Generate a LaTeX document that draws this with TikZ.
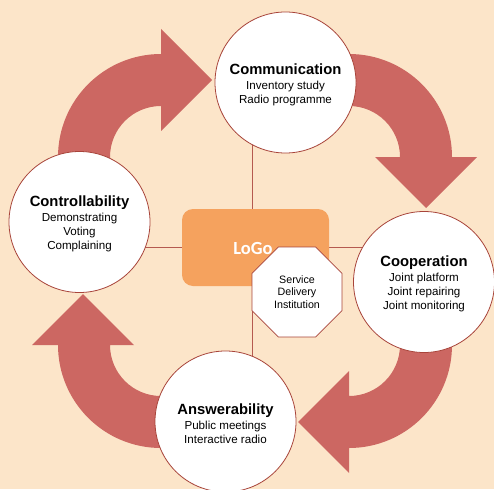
\documentclass[tikz,border=0pt]{standalone}
\usepackage{fontspec}
\setmainfont{Liberation Sans}
\newfontfamily\logofont{Carlito}
\usetikzlibrary{shapes.geometric}
\definecolor{bgc}{HTML}{FCE5C9}
\definecolor{arrowc}{HTML}{CC6762}
\definecolor{ringc}{HTML}{A8443A}
\definecolor{linkc}{HTML}{B55A50}
\definecolor{logoc}{HTML}{F5A25E}
\newcommand{\bubtitle}[1]{\rule{0pt}{15pt}{\fontsize{14.8}{16}\selectfont\bfseries #1}}
\begin{document}
\begin{tikzpicture}[x=1pt,y=1pt,
  bubble/.style={circle, draw=ringc, line width=0.8pt, fill=white, minimum size=141pt, inner sep=0pt, align=center, font=\fontsize{11.6}{14}\selectfont},
  bigarrow/.style={fill=arrowc, draw=none},
  link/.style={draw=linkc, line width=0.8pt},
  logobox/.style={fill=logoc, draw=none, rounded corners=11pt, minimum width=147pt, minimum height=77pt, inner sep=0pt},
  logolabel/.style={text=white, font=\logofont\fontsize{18.5}{20}\selectfont\bfseries},
  octo/.style={regular polygon, regular polygon sides=8, draw=ringc, line width=0.8pt, fill=white, minimum size=97.4pt, inner sep=0pt, align=center, font=\fontsize{10.7}{12.7}\selectfont},
]
\fill[bgc] (0,0) rectangle (494,-489);
\useasboundingbox (0,0) rectangle (494,-489);

% curved arrows
\fill[bigarrow] (58,-180) -- (58,-157) arc[start angle=180,end angle=90,radius=103]
  -- (161,-29) -- (212,-80) -- (161,-131) -- (161,-106)
  arc[start angle=90,end angle=180,radius=51] -- (110,-180) -- cycle;
\fill[bigarrow] (320,-54) -- (349,-54) arc[start angle=90,end angle=0,radius=103]
  -- (477,-157) -- (426,-208) -- (375,-157) -- (400,-157)
  arc[start angle=0,end angle=90,radius=51] -- (320,-106) -- cycle;
\fill[bigarrow] (452,-320) -- (452,-345) arc[start angle=0,end angle=-90,radius=103]
  -- (349,-473) -- (298,-422) -- (349,-371) -- (349,-396)
  arc[start angle=-90,end angle=0,radius=51] -- (400,-320) -- cycle;
\fill[bigarrow] (185,-448) -- (161,-448) arc[start angle=-90,end angle=-180,radius=103]
  -- (32,-345) -- (83,-294) -- (134,-345) -- (110,-345)
  arc[start angle=-180,end angle=-90,radius=51] -- (185,-396) -- cycle;

% node positions
\coordinate (hub) at (252.3,-247.3);
\coordinate (commc) at (285.5,-82.5);
\coordinate (coopc) at (424,-282);
\coordinate (answc) at (225.5,-421.5);
\coordinate (ctrlc) at (79.5,-222);

% connecting lines (drawn beneath the shapes)
\draw[link] (hub |- commc) -- (hub |- answc);
\draw[link] (hub -| ctrlc) -- (hub -| coopc);

\node[bubble] (comm) at (commc) {\bubtitle{Communication}\\[1pt]Inventory study\\Radio programme};
\node[bubble] (coop) at (coopc) {\bubtitle{Cooperation}\\[1pt]Joint platform\\Joint repairing\\Joint monitoring};
\node[bubble] (answ) at (answc) {\bubtitle{Answerability}\\[1pt]Public meetings\\Interactive radio};
\node[bubble] (ctrl) at (ctrlc) {\bubtitle{Controllability}\\[1pt]Demonstrating\\Voting\\Complaining};

\node[logobox] (logo) at (255.5,-247.5) {};
\node[logolabel] (logotext) at (253,-248) {LoGo};
\node[octo] (sdi) at (297,-292) {Service\\Delivery\\Institution};
\end{tikzpicture}
\end{document}
